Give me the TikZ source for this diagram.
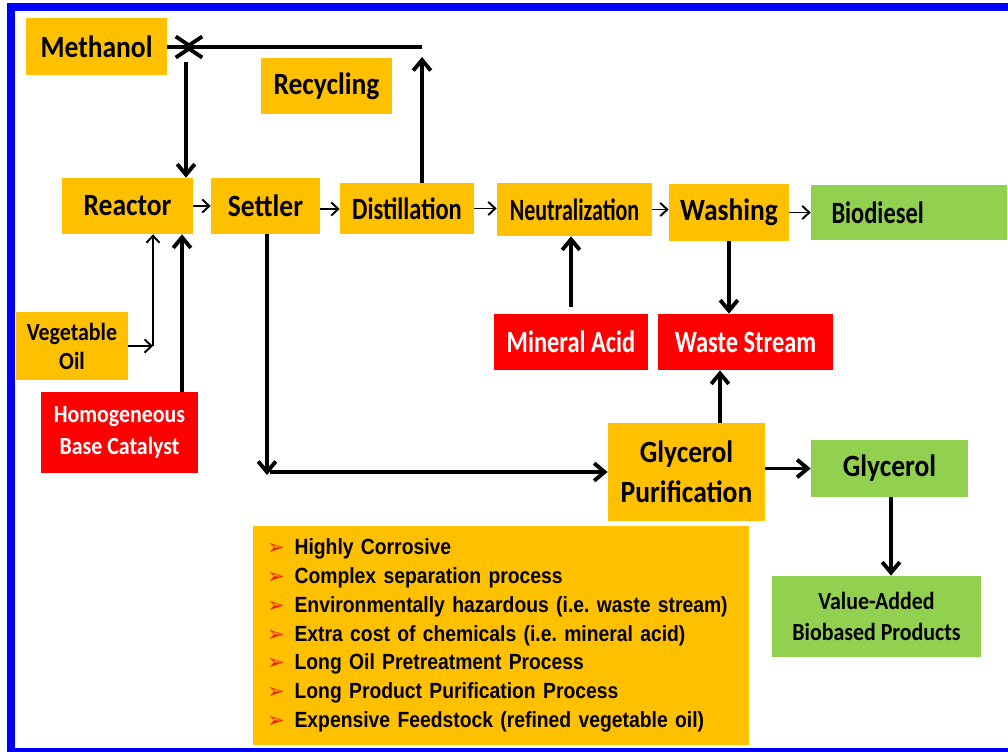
\documentclass[tikz,border=0pt]{standalone}
\usepackage{fontspec}
\setmainfont{Carlito}[FakeStretch=0.89]
\newfontfamily\narrowFont{Carlito}[FakeStretch=0.79]
\newfontfamily\slimFont{Carlito}[FakeStretch=0.71]
\newfontfamily\listFont{Liberation Sans}[FakeStretch=0.88]
\newfontfamily\symFont{DejaVu Sans}
\usepackage{xcolor}
\definecolor{procGold}{HTML}{FFC000}
\definecolor{prodGreen}{HTML}{92D050}
\definecolor{hazRed}{HTML}{FF0000}
\definecolor{frameBlue}{HTML}{0000FF}
\definecolor{tipRed}{HTML}{F5200A}
\usetikzlibrary{arrows.meta,calc}
\frenchspacing
\newcommand\bigLabel{\fontsize{17.6pt}{23pt}\selectfont\bfseries}
\newcommand\smallLabel{\fontsize{14pt}{18pt}\selectfont\bfseries}
\newcommand\redTip{{\mdseries\symFont\color{tipRed}\fontsize{12pt}{12pt}\selectfont ➢}\hspace{0.45em}}

\begin{document}
\begin{tikzpicture}[x=0.02cm, y=-0.02cm,
  procBox/.style={fill=procGold, inner sep=1pt, align=center, font=\bigLabel},
  prodBox/.style={fill=prodGreen, inner sep=1pt, align=center, font=\bigLabel},
  hazBox/.style={fill=hazRed, text=white, inner sep=1pt, align=center, font=\bigLabel\narrowFont},
  flowArrow/.style={line width=1.1pt, -{Straight Barb[length=4pt,width=7.5pt]}},
  bigArrow/.style={line width=2.2pt, -{Straight Barb[length=6pt,width=10pt]}},
  mixArrow/.style={line width=2.2pt, -{Straight Barb[length=9pt,width=12pt]}}]
\useasboundingbox (0,0) rectangle (1008,751);
% ---------- frame ----------
\draw[frameBlue, line width=4pt] (1008,7) -- (11,7) -- (11,751.5) -- (1008,751.5);
% ---------- main line ----------
\node[procBox, minimum width=2.82cm, minimum height=1.14cm] (meth) at (96.5,46.5) {Methanol};
\node[procBox, minimum width=2.62cm, minimum height=1.12cm] (recyc) at (326.5,86) {Recycling};
\node[procBox, minimum width=2.62cm, minimum height=1.12cm] (react) at (127.5,206) {Reactor};
\node[procBox, minimum width=2.18cm, minimum height=1.12cm] (settl) at (265.5,206) {Settler};
\node[procBox, minimum width=2.68cm, minimum height=1.02cm, font=\bigLabel\narrowFont] (distil) at (407,208.5) {Distillation};
\node[procBox, minimum width=3.10cm, minimum height=1.06cm, font=\bigLabel\slimFont] (neutr) at (574.5,209.5) {Neutralization};
\node[procBox, minimum width=2.40cm, minimum height=1.14cm] (wash) at (729,212.5) {Washing};
\node[prodBox, minimum width=3.92cm, minimum height=1.10cm, text width=3.84cm, align=left,
  font=\bigLabel\narrowFont] (biod) at (909,212.5) {\hspace*{0.37cm}Biodiesel};
% ---------- feeds and waste ----------
\node[procBox, minimum width=2.24cm, minimum height=1.36cm, font=\fontsize{14pt}{16.5pt}\selectfont\bfseries] (oil) at (72,346) {Vegetable\\Oil};
\node[hazBox, minimum width=3.14cm, minimum height=1.62cm, font=\smallLabel] (cat) at (119.5,432.5) {Homogeneous\\Base Catalyst};
\node[hazBox, minimum width=3.08cm, minimum height=1.12cm] (acid) at (571,342) {Mineral Acid};
\node[hazBox, minimum width=3.50cm, minimum height=1.12cm] (waste) at (745.5,342) {Waste Stream};
% ---------- glycerol side ----------
\node[procBox, minimum width=3.14cm, minimum height=1.96cm] (glypur) at (686.5,472) {Glycerol\\Purification};
\node[prodBox, minimum width=3.14cm, minimum height=1.14cm] (glyc) at (889.5,468.5) {Glycerol};
\node[prodBox, minimum width=4.18cm, minimum height=1.62cm, font=\smallLabel] (vap) at (876.5,616.5) {Value-Added\\Biobased Products};
% ---------- drawbacks ----------
\node[fill=procGold, minimum height=4.38cm, inner xsep=0.28cm, text width=9.36cm, align=left,
  font=\listFont\bfseries\fontsize{12.5pt}{16.4pt}\selectfont] (cons) at (501,635.5)
  {\redTip Highly Corrosive\\
   \redTip Complex separation process\\
   \redTip Environmentally hazardous (i.e. waste stream)\\
   \redTip Extra cost of chemicals (i.e. mineral acid)\\
   \redTip Long Oil Pretreatment Process\\
   \redTip Long Product Purification Process\\
   \redTip Expensive Feedstock (refined vegetable oil)};
% ---------- methanol loop ----------
\coordinate (mixR) at (195,47);
\coordinate (mixL) at (183,47);
\coordinate (mixD) at (186,62);
\coordinate (rtop) at (422,47);
\draw[mixArrow] (meth.east |- mixR) -- (mixR);
\draw[mixArrow] (rtop) -- (mixL);
\draw[bigArrow] (mixD) -- (mixD |- react.north);
\draw[bigArrow] (distil.north -| rtop) -- ([yshift=-0.2cm]rtop);
% ---------- process arrows ----------
\draw[flowArrow] (react.east) -- (react.east -| settl.west);
\draw[flowArrow] ([yshift=-0.06cm]settl.east) -- ([yshift=-0.06cm]settl.east -| distil.west);
\draw[flowArrow] (distil.east) -- (distil.east -| neutr.west);
\draw[flowArrow] (neutr.east) -- (neutr.east -| wash.west);
\draw[flowArrow] (wash.east) -- (wash.east -| biod.west);
\coordinate (oilBend) at (153,346);
\draw[flowArrow] (oil.east |- oilBend) -- (oilBend);
\draw[flowArrow] (oilBend) -- (oilBend |- react.south);
\coordinate (catUp) at (182,392);
\draw[bigArrow] (catUp) -- (catUp |- react.south);
\draw[bigArrow] ([yshift=0.14cm]acid.north) -- (acid.north |- neutr.south);
\draw[bigArrow] (wash.south) -- (wash.south |- waste.north);
\draw[bigArrow] ([xshift=0.67cm]glypur.north) -- ([xshift=0.67cm]glypur.north |- waste.south);
\coordinate (settlDown) at ($(settl.south |- glypur.west)+(1.5,3)$);
\draw[bigArrow] (settl.south -| settlDown) -- (settlDown);
\draw[bigArrow] ([xshift=0.06cm]settlDown |- glypur.west) -- (glypur.west);
\draw[bigArrow] (glypur.east |- glyc.west) -- (glyc.west);
\draw[bigArrow] ([xshift=0.03cm]glyc.south) -- ([xshift=0.03cm]glyc.south |- vap.north);
\end{tikzpicture}
\end{document}
